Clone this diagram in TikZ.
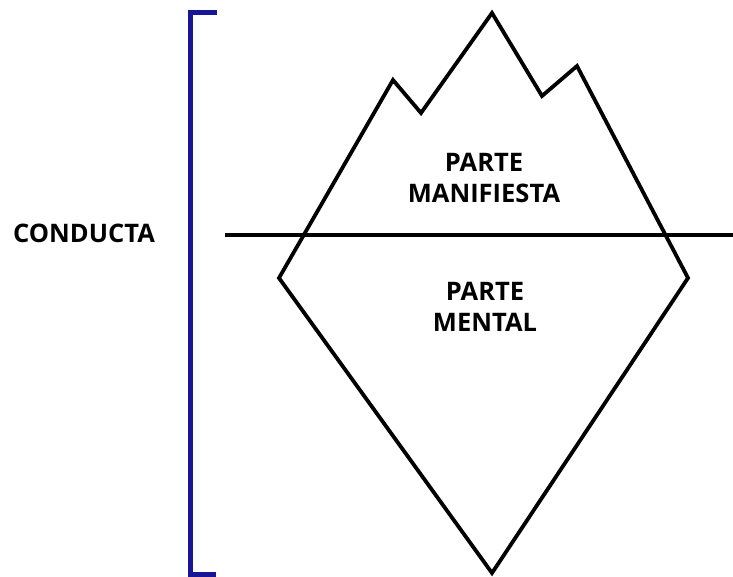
\documentclass[tikz,border=0pt]{standalone}
\usepackage{fontspec}
\setmainfont{Open Sans}
\usetikzlibrary{positioning}
\definecolor{bracketblue}{RGB}{22,22,150}

\begin{document}
\begin{tikzpicture}[x=1pt, y=-1pt,
    outline/.style={line width=3.8pt, line join=miter, black},
    label/.style={font=\bfseries\fontsize{25.5}{31}\selectfont, align=center, inner sep=0pt}]

  \useasboundingbox (0,0) rectangle (733,577);

  % Iceberg corners
  \coordinate (top) at (492,13);
  \coordinate (lpeak) at (393,80);
  \coordinate (lnotch) at (421,113);
  \coordinate (rnotch) at (542,96);
  \coordinate (rpeak) at (577,66);
  \coordinate (right) at (688,278);
  \coordinate (bottom) at (492,573);
  \coordinate (left) at (279,278);

  % Iceberg outline
  \draw[outline] (left) -- (lpeak) -- (lnotch) -- (top) -- (rnotch) -- (rpeak)
    -- (right) -- (bottom) -- cycle;

  % Water line
  \coordinate (wstart) at (225,235);
  \coordinate (wend) at (733,235);
  \draw[outline] (wstart) -- (wend);

  % Bracket
  \coordinate (btop) at (217,13);
  \coordinate (bbot) at (216,574);
  \draw[bracketblue, line width=5pt, line join=miter] (btop) -- (190,13) -- (190,574) -- (bbot);

  % Labels (base = last line)
  \node[label, anchor=base] (manifiesta) at (484,203) {PARTE\\MANIFIESTA};
  \node[label, anchor=base] (mental) at (485,331) {PARTE\\MENTAL};
  \node[label, anchor=base] (conducta) at (84,243) {CONDUCTA};

\end{tikzpicture}
\end{document}
